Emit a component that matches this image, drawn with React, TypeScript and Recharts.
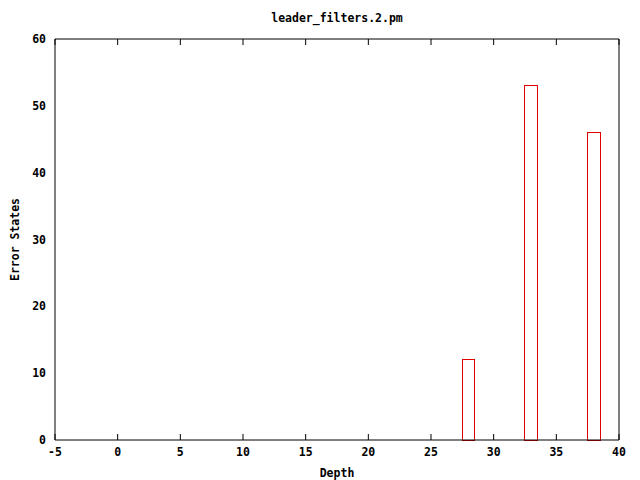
import React from "react";
import { ComposedChart, Bar, XAxis, YAxis, Label } from "recharts";

// depth buckets and error-state counts
const depths = [28, 33, 38];
const errorStates = [12, 53, 46];

const xTicks = [-5, 0, 5, 10, 15, 20, 25, 30, 35, 40];
const yTicks = [0, 10, 20, 30, 40, 50, 60];

const TITLE = "leader_filters.2.pm";
const X_LABEL = "Depth";
const Y_LABEL = "Error States";

const W = 640;
const H = 480;
const MARGIN = { top: 39, right: 21, bottom: 0, left: 0 };
const Y_AXIS_W = 55;
const X_AXIS_H = 40;
const PLOT_W = W - MARGIN.left - MARGIN.right - Y_AXIS_W;
const X_DOMAIN: [number, number] = [-5, 40];
const Y_DOMAIN: [number, number] = [0, 60];
const BAR_W = PLOT_W / (X_DOMAIN[1] - X_DOMAIN[0]);

const FONT = "'DejaVu Sans Mono', 'Liberation Mono', monospace";
const textStyle = { fontFamily: FONT, fontSize: 11.5, fontWeight: 700, fill: "#000" };
// mirror axes only need the tic marks, no labels
const noLabel = () => <g />;

const data = depths.map((d, i) => ({ depth: d, count: errorStates[i] }));

export default function App() {
  return (
    <div style={{ position: "absolute", left: 0, top: 0, width: W, height: H, background: "#fff" }}>
      <div
        style={{
          position: "absolute",
          left: Y_AXIS_W,
          top: 11,
          width: PLOT_W,
          textAlign: "center",
          fontFamily: FONT,
          fontSize: 11.5,
          fontWeight: 700,
          lineHeight: "14px",
        }}
      >
        {TITLE}
      </div>
      <ComposedChart width={W} height={H} data={data} margin={MARGIN}>
        <XAxis
          xAxisId="b"
          dataKey="depth"
          type="number"
          domain={X_DOMAIN}
          ticks={xTicks}
          allowDataOverflow
          height={X_AXIS_H}
          tickLine={false}
          tickSize={0}
          tickMargin={8}
          tick={textStyle}
          axisLine={{ stroke: "#000" }}
        >
          <Label value={X_LABEL} position="insideBottom" offset={3} style={textStyle} />
        </XAxis>
        {/* inward tics on the bottom and top edges, gnuplot style */}
        <XAxis
          xAxisId="bm"
          dataKey="depth"
          type="number"
          domain={X_DOMAIN}
          ticks={xTicks}
          allowDataOverflow
          orientation="bottom"
          mirror
          height={1}
          tick={noLabel}
          tickSize={6}
          tickLine={{ stroke: "#000" }}
          axisLine={false}
        />
        <XAxis
          xAxisId="tm"
          dataKey="depth"
          type="number"
          domain={X_DOMAIN}
          ticks={xTicks}
          allowDataOverflow
          orientation="top"
          mirror
          height={1}
          tick={noLabel}
          tickSize={6}
          tickLine={{ stroke: "#000" }}
          axisLine={{ stroke: "#000" }}
        />
        <YAxis
          yAxisId="l"
          type="number"
          domain={Y_DOMAIN}
          ticks={yTicks}
          width={Y_AXIS_W}
          tickLine={false}
          tickSize={0}
          tickMargin={9}
          tick={textStyle}
          axisLine={{ stroke: "#000" }}
        >
          <Label
            content={({ viewBox }: any) => {
              const cx = 15;
              const cy = viewBox.y + viewBox.height / 2;
              return (
                <text
                  x={cx}
                  y={cy}
                  transform={`rotate(-90, ${cx}, ${cy})`}
                  textAnchor="middle"
                  dominantBaseline="central"
                  style={textStyle}
                >
                  {Y_LABEL}
                </text>
              );
            }}
          />
        </YAxis>
        <YAxis
          yAxisId="lm"
          type="number"
          domain={Y_DOMAIN}
          ticks={yTicks}
          orientation="left"
          mirror
          width={1}
          tick={noLabel}
          tickSize={6}
          tickLine={{ stroke: "#000" }}
          axisLine={false}
        />
        <YAxis
          yAxisId="rm"
          type="number"
          domain={Y_DOMAIN}
          ticks={yTicks}
          orientation="right"
          mirror
          width={1}
          tick={noLabel}
          tickSize={6}
          tickLine={{ stroke: "#000" }}
          axisLine={{ stroke: "#000" }}
        />
        <Bar
          xAxisId="b"
          yAxisId="l"
          dataKey="count"
          barSize={BAR_W}
          fill="#fff"
          stroke="#e00000"
          strokeWidth={1}
          shapeRendering="crispEdges"
          isAnimationActive={false}
        />
      </ComposedChart>
    </div>
  );
}
